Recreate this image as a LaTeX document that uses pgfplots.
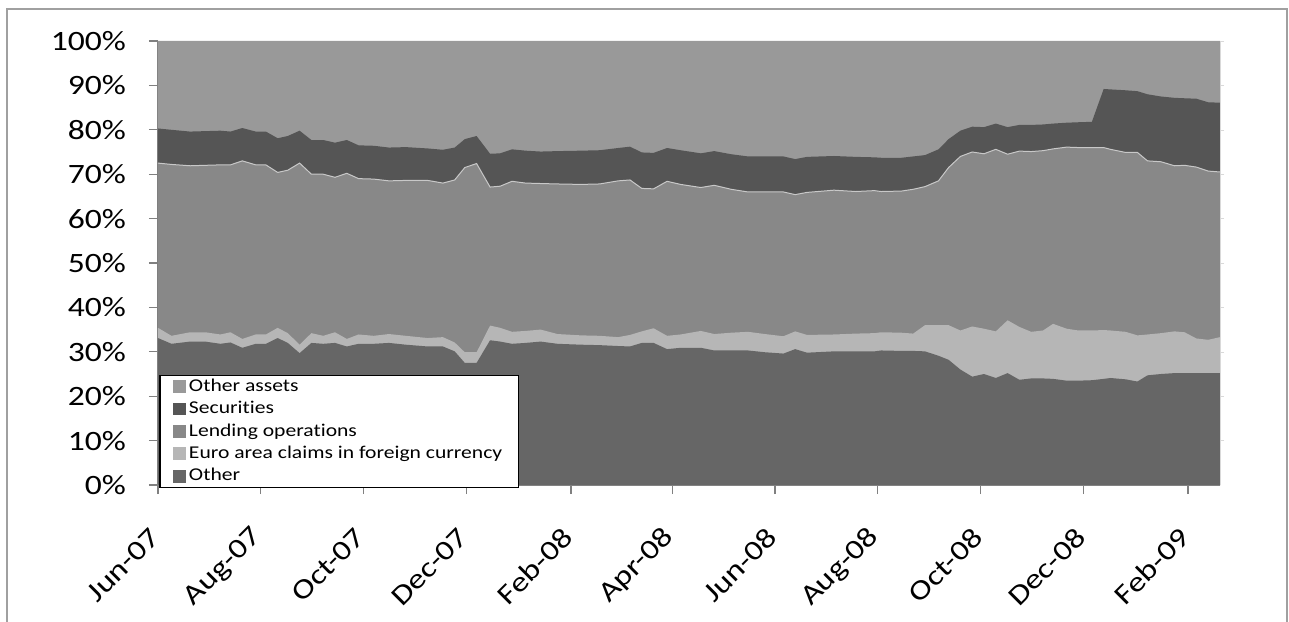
\documentclass[border=0pt]{standalone}
\usepackage{fontspec}
\setmainfont[FakeStretch=1.2, Ligatures={NoCommon}]{Carlito}
\usepackage{pgfplots}
\pgfplotsset{compat=1.18}
\usepackage{pgfplotstable}
\definecolor{cOA}{HTML}{999999}
\definecolor{cSec}{HTML}{555555}
\definecolor{cLend}{HTML}{888888}
\definecolor{cEuro}{HTML}{B6B6B6}
\definecolor{cOth}{HTML}{666666}
\definecolor{cEdge}{HTML}{C8C8C8}
\definecolor{frameC}{HTML}{A0A0A0}

% cumulative shares (%): B1 = Other, B2 = +Euro area claims, B3 = +Lending, B4 = +Securities, T = total
\pgfplotstableread{
x B1 B2 B3 B4 T
0 33.1 35.4 72.5 80.3 100
8 31.8 33.6 72.2 80.0 100
19 32.3 34.4 71.9 79.6 100
28 32.3 34.4 72.0 79.7 100
37 31.8 33.9 72.1 79.8 100
43 32.1 34.4 72.1 79.6 100
50 30.9 32.9 73.0 80.4 100
58 31.8 33.9 72.1 79.6 100
64 31.8 33.9 72.1 79.6 100
71 33.1 35.4 70.4 78.1 100
77 32.0 34.2 70.9 78.6 100
84 29.7 31.6 72.5 79.8 100
91 32.0 34.2 70.0 77.7 100
98 31.8 33.6 70.0 77.7 100
105 32.0 34.4 69.3 77.1 100
112 31.2 32.9 70.2 77.7 100
119 31.8 33.9 69.0 76.5 100
128 31.8 33.6 68.9 76.4 100
137 32.0 34.0 68.5 76.0 100
147 31.6 33.6 68.6 76.1 100
160 31.2 33.1 68.6 75.8 100
169 31.2 33.3 68.0 75.5 100
176 30.1 32.1 68.7 76.0 100
182 27.5 29.9 71.5 77.9 100
189 27.5 29.9 72.4 78.6 100
197 32.6 35.9 67.1 74.6 100
203 32.3 35.4 67.3 74.7 100
210 31.8 34.5 68.4 75.6 100
218 32.0 34.7 68.0 75.3 100
227 32.3 35.0 67.9 75.1 100
237 31.8 34.0 67.8 75.2 100
251 31.6 33.7 67.7 75.3 100
262 31.5 33.6 67.8 75.4 100
273 31.3 33.3 68.5 75.9 100
280 31.2 33.8 68.7 76.2 100
287 32.0 34.6 66.8 74.9 100
294 32.0 35.3 66.7 74.8 100
302 30.6 33.6 68.4 75.9 100
310 30.9 33.9 67.7 75.4 100
322 30.9 34.7 67.0 74.7 100
330 30.3 34.0 67.5 75.2 100
340 30.3 34.3 66.6 74.5 100
350 30.3 34.5 66.0 74.0 100
360 29.9 34.0 66.0 74.0 100
371 29.6 33.5 66.0 74.0 100
378 30.6 34.6 65.4 73.4 100
385 29.8 33.8 65.9 73.9 100
401 30.1 33.9 66.4 74.1 100
414 30.1 34.1 66.1 73.9 100
425 30.1 34.2 66.3 73.8 100
429 30.3 34.4 66.1 73.7 100
441 30.2 34.3 66.2 73.7 100
448 30.2 34.1 66.6 74.0 100
455 30.1 36.0 67.2 74.3 100
463 29.1 36.0 68.5 75.6 100
469 28.2 36.0 71.5 77.9 100
476 26.0 34.8 74.0 79.8 100
483 24.4 35.7 75.0 80.7 100
490 25.0 35.2 74.6 80.6 100
497 24.1 34.6 75.6 81.4 100
504 25.2 37.1 74.5 80.6 100
511 23.7 35.6 75.2 81.1 100
518 24.0 34.5 75.1 81.1 100
525 24.0 34.8 75.3 81.2 100
531 23.9 36.3 75.7 81.4 100
539 23.5 35.2 76.1 81.6 100
546 23.5 34.8 76.0 81.7 100
554 23.6 34.8 76.0 81.8 100
561 23.9 34.9 76.0 89.2 100
565 24.1 34.8 75.6 89.1 100
574 23.8 34.5 74.9 88.9 100
581 23.3 33.7 74.9 88.7 100
587 24.7 33.9 73.0 88.0 100
595 25.0 34.2 72.8 87.5 100
603 25.2 34.6 71.9 87.2 100
609 25.2 34.4 72.0 87.1 100
616 25.2 33.0 71.6 87.0 100
623 25.2 32.7 70.7 86.2 100
630 25.2 33.3 70.5 86.1 100
}\shares

\begin{document}
\begin{tikzpicture}
\useasboundingbox (-79pt,-68pt) rectangle (565.5pt,242.5pt);
\draw[frameC, line width=1pt] (-75.5pt,-72pt) -- (-75.5pt,238pt) -- (564.5pt,238pt) -- (564.5pt,-72pt);
\begin{axis}[
  scale only axis, width=531pt, height=222pt,
  xmin=0, xmax=630, ymin=0, ymax=100,
  axis x line*=bottom, axis y line*=left,
  axis line style={draw=gray, line width=0.6pt},
  tick style={draw=gray, line width=0.6pt},
  tick align=outside, major tick length=4.5pt,
  ytick={0,10,...,100},
  yticklabels={0\%,10\%,20\%,30\%,40\%,50\%,60\%,70\%,80\%,90\%,100\%},
  xtick={0,61,122,183,245,305,366,427,488,549,611},
  xticklabels={Jun-07,Aug-07,Oct-07,Dec-07,Feb-08,Apr-08,Jun-08,Aug-08,Oct-08,Dec-08,Feb-09},
  ticklabel style={font=\fontsize{14}{16}\selectfont},
  yticklabel style={xshift=-8pt},
  xticklabel style={yshift=-17pt, xshift=1pt, rotate=45, anchor=east},
  legend cell align=left,
  legend image code/.code={\path[#1, draw=none] (0pt,-3.2pt) rectangle (6.4pt,3.2pt);},
  legend style={at={(0.0014,-0.007)}, anchor=south west, draw=black, line width=0.7pt, fill=white,
    font=\fontsize{9}{10}\selectfont, inner xsep=6.5pt, inner ysep=0pt,
    nodes={inner sep=1.5pt, text height=6.4pt, text depth=1.8pt}},
]
\addplot[fill=cOA, draw=none] table[x=x, y=T] {\shares} \closedcycle;
\addlegendentry{Other assets}
\addplot[fill=cSec, draw=none] table[x=x, y=B4] {\shares} \closedcycle;
\addlegendentry{Securities}
\addplot[fill=cLend, draw=none] table[x=x, y=B3] {\shares} \closedcycle;
\addlegendentry{Lending operations}
\addplot[fill=cEuro, draw=none] table[x=x, y=B2] {\shares} \closedcycle;
\addlegendentry{Euro area claims in foreign currency}
\addplot[fill=cOth, draw=none] table[x=x, y=B1] {\shares} \closedcycle;
\addlegendentry{Other}
\addplot[forget plot, draw=cEdge, line width=0.5pt] table[x=x, y=B3] {\shares};
\end{axis}
\begin{axis}[
  scale only axis, width=531pt, height=222pt,
  xmin=0, xmax=630, ymin=0, ymax=100,
  axis x line=none, axis y line*=right,
  axis line style={draw=gray!30},
  ytick={10,20,...,100}, yticklabels={},
  tick style={draw=gray!30}, tick align=outside, major tick length=2pt,
]
\addplot[draw=none] coordinates {(0,0) (630,100)};
\end{axis}
\end{tikzpicture}
\end{document}
